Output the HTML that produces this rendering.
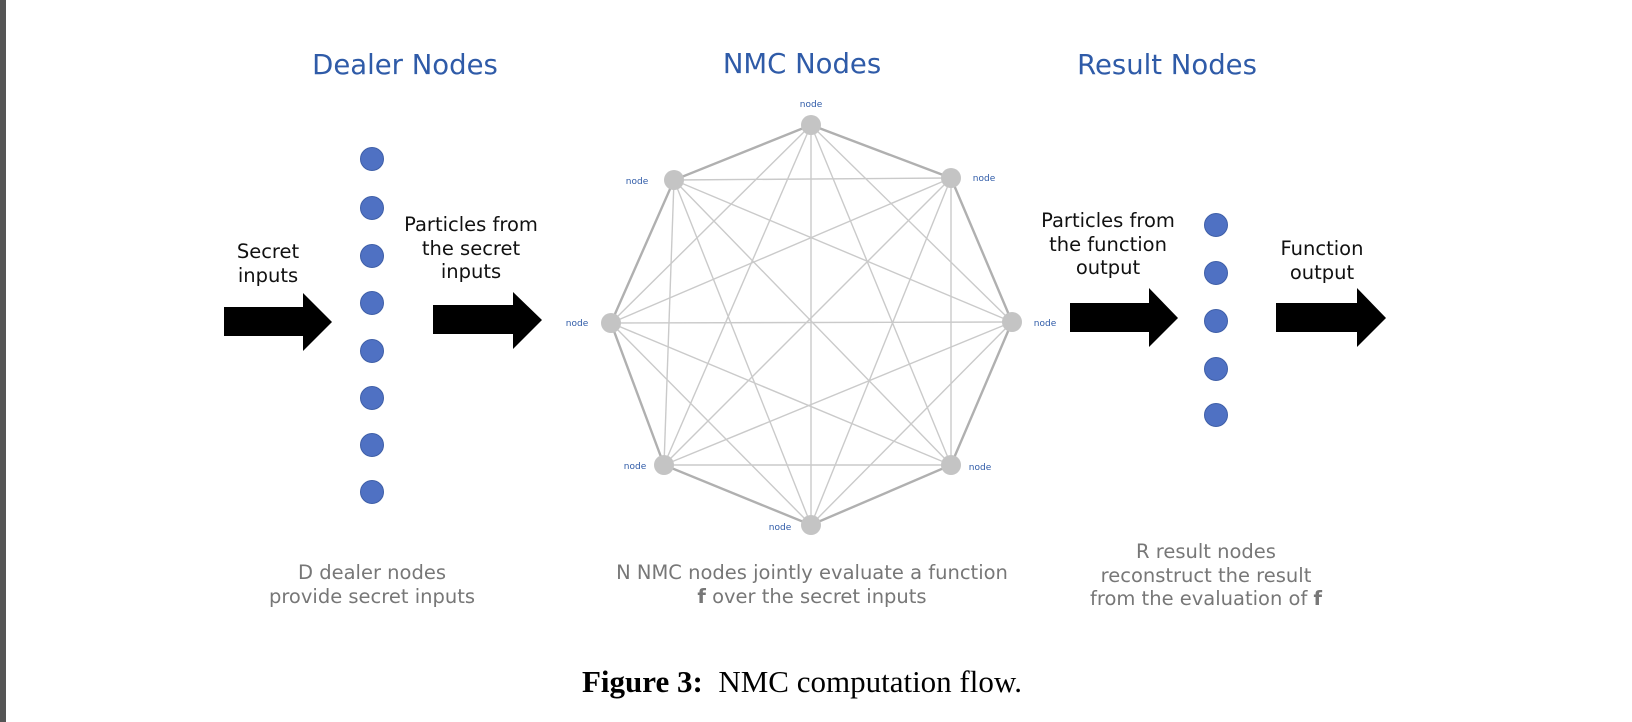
<!DOCTYPE html>
<html><head><meta charset="utf-8"><style>
html,body{margin:0;padding:0;background:#fff;}
body{width:1632px;height:722px;position:relative;overflow:hidden;}
.t{position:absolute;font-family:"DejaVu Sans","Liberation Sans",sans-serif;text-align:center;white-space:nowrap;transform:translateX(-50%);}
.h{color:#2f5ba8;font-size:27.5px;}
.b{color:#111;font-size:19.5px;line-height:23.5px;}
.g{color:#777;font-size:19.5px;line-height:23.5px;}
</style></head><body>
<div style="position:absolute;left:0;top:0;width:6px;height:722px;background:#555"></div>
<svg width="1632" height="722" style="position:absolute;left:0;top:0">
<g stroke="#cacaca" stroke-width="1.4">
<line x1="811" y1="125" x2="664" y2="465"/><line x1="811" y1="125" x2="951" y2="465"/><line x1="811" y1="125" x2="611" y2="323"/><line x1="811" y1="125" x2="1012" y2="322"/><line x1="811" y1="125" x2="811" y2="525"/>
<line x1="674" y1="180" x2="951" y2="178"/><line x1="674" y1="180" x2="1012" y2="322"/><line x1="674" y1="180" x2="951" y2="465"/><line x1="674" y1="180" x2="811" y2="525"/><line x1="674" y1="180" x2="664" y2="465"/>
<line x1="951" y1="178" x2="611" y2="323"/><line x1="951" y1="178" x2="664" y2="465"/><line x1="951" y1="178" x2="811" y2="525"/><line x1="951" y1="178" x2="951" y2="465"/>
<line x1="611" y1="323" x2="1012" y2="322"/><line x1="611" y1="323" x2="951" y2="465"/><line x1="611" y1="323" x2="811" y2="525"/>
<line x1="1012" y1="322" x2="664" y2="465"/><line x1="1012" y1="322" x2="811" y2="525"/>
<line x1="664" y1="465" x2="951" y2="465"/>
</g>
<polygon points="811,125 951,178 1012,322 951,465 811,525 664,465 611,323 674,180" fill="none" stroke="#b0b0b0" stroke-width="2.4"/>
<g fill="#c4c4c4">
<circle cx="811" cy="125" r="10"/><circle cx="674" cy="180" r="10"/><circle cx="951" cy="178" r="10"/><circle cx="611" cy="323" r="10"/><circle cx="1012" cy="322" r="10"/><circle cx="664" cy="465" r="10"/><circle cx="951" cy="465" r="10"/><circle cx="811" cy="525" r="10"/>
</g>
<g font-family="DejaVu Sans, sans-serif" font-size="9" fill="#2f5ba8" text-anchor="middle">
<text x="811" y="107">node</text><text x="637" y="184">node</text><text x="984" y="181">node</text><text x="577" y="326">node</text><text x="1045" y="326">node</text><text x="635" y="469">node</text><text x="980" y="470">node</text><text x="780" y="530">node</text>
</g>
<g fill="#4f71c3" stroke="#3f5fa8" stroke-width="1">
<circle cx="372" cy="159" r="11.5"/><circle cx="372" cy="208" r="11.5"/><circle cx="372" cy="256" r="11.5"/><circle cx="372" cy="303" r="11.5"/><circle cx="372" cy="351" r="11.5"/><circle cx="372" cy="398" r="11.5"/><circle cx="372" cy="445" r="11.5"/><circle cx="372" cy="492" r="11.5"/>
<circle cx="1216" cy="225" r="11.5"/><circle cx="1216" cy="273" r="11.5"/><circle cx="1216" cy="321" r="11.5"/><circle cx="1216" cy="369" r="11.5"/><circle cx="1216" cy="415" r="11.5"/>
</g>
<g fill="#000">
<polygon points="224,307 303,307 303,293 332,322 303,351 303,336 224,336"/>
<polygon points="433,305 513,305 513,292 542,320 513,349 513,334 433,334"/>
<polygon points="1070,303 1149,303 1149,288 1178,318 1149,347 1149,332 1070,332"/>
<polygon points="1276,303 1357,303 1357,288 1386,318 1357,347 1357,332 1276,332"/>
</g>
</svg>
<div class="t h" style="left:405px;top:49px">Dealer Nodes</div>
<div class="t h" style="left:802px;top:48px">NMC Nodes</div>
<div class="t h" style="left:1167px;top:49px">Result Nodes</div>
<div class="t b" style="left:268px;top:240px">Secret<br>inputs</div>
<div class="t b" style="left:471px;top:213px">Particles from<br>the secret<br>inputs</div>
<div class="t b" style="left:1108px;top:209px">Particles from<br>the function<br>output</div>
<div class="t b" style="left:1322px;top:237px">Function<br>output</div>
<div class="t g" style="left:372px;top:561px">D dealer nodes<br>provide secret inputs</div>
<div class="t g" style="left:812px;top:561px">N NMC nodes jointly evaluate a function<br><b>f</b> over the secret inputs</div>
<div class="t g" style="left:1206px;top:540px">R result nodes<br>reconstruct the result<br>from the evaluation of <b>f</b></div>
<div class="t" style="left:802px;top:664px;font-family:'Liberation Serif',serif;font-size:31px;color:#000"><b>Figure 3:</b>&nbsp; NMC computation flow.</div>
</body></html>
